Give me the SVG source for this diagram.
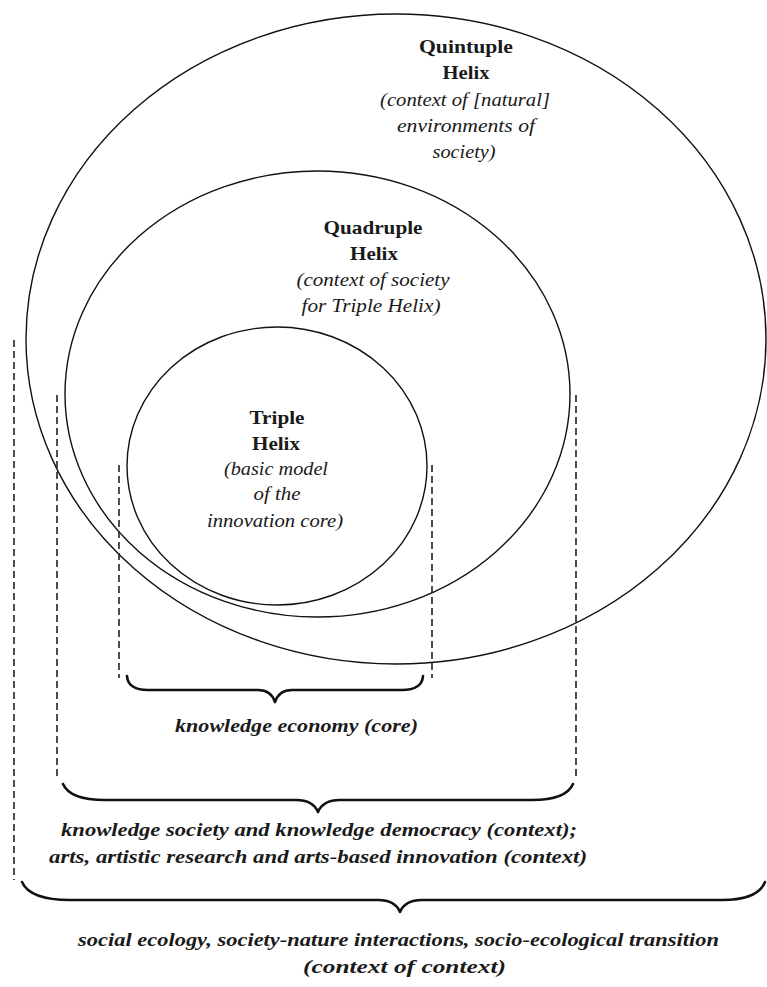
<svg xmlns="http://www.w3.org/2000/svg" width="767" height="987" viewBox="0 0 767 987">
<style>
.ell{fill:none;stroke:#111;stroke-width:1.4}
.dash{fill:none;stroke:#222;stroke-width:1.6;stroke-dasharray:7,4}
.brace{fill:none;stroke:#111;stroke-width:2.6;stroke-linecap:round;stroke-linejoin:round}
.t{font-family:"Liberation Serif","Times New Roman",serif;font-size:19px;fill:#1a1a1a;text-anchor:middle}
.b{font-weight:bold}
.i{font-style:italic}
.bi{font-weight:bold;font-style:italic}
</style>
<rect width="767" height="987" fill="#fff"/>
<g id="quintuple">
<ellipse class="ell" cx="396" cy="339" rx="370" ry="325"/>
<text class="t b" x="466" y="53" textLength="94" lengthAdjust="spacingAndGlyphs">Quintuple</text>
<text class="t b" x="466" y="79" textLength="47" lengthAdjust="spacingAndGlyphs">Helix</text>
<text class="t i" x="465" y="106" textLength="170" lengthAdjust="spacingAndGlyphs">(context of [natural]</text>
<text class="t i" x="466" y="132" textLength="138" lengthAdjust="spacingAndGlyphs">environments of</text>
<text class="t i" x="464" y="158" textLength="63" lengthAdjust="spacingAndGlyphs">society)</text>
</g>
<g id="quadruple">
<ellipse class="ell" cx="317.5" cy="394" rx="252.5" ry="223"/>
<text class="t b" x="373" y="234" textLength="99" lengthAdjust="spacingAndGlyphs">Quadruple</text>
<text class="t b" x="374" y="260" textLength="48" lengthAdjust="spacingAndGlyphs">Helix</text>
<text class="t i" x="373" y="286" textLength="153" lengthAdjust="spacingAndGlyphs">(context of society</text>
<text class="t i" x="371" y="312" textLength="139" lengthAdjust="spacingAndGlyphs">for Triple Helix)</text>
</g>
<g id="triple">
<ellipse class="ell" cx="277" cy="466" rx="150" ry="139"/>
<text class="t b" x="277" y="424" textLength="55" lengthAdjust="spacingAndGlyphs">Triple</text>
<text class="t b" x="276" y="450" textLength="48" lengthAdjust="spacingAndGlyphs">Helix</text>
<text class="t i" x="276" y="475" textLength="104" lengthAdjust="spacingAndGlyphs">(basic model</text>
<text class="t i" x="277" y="500" textLength="47" lengthAdjust="spacingAndGlyphs">of the</text>
<text class="t i" x="275" y="527" textLength="136" lengthAdjust="spacingAndGlyphs">innovation core)</text>
</g>
<g id="connectors">
<line class="dash" x1="119" y1="465" x2="119" y2="678"/>
<line class="dash" x1="432" y1="465" x2="432" y2="678"/>
<line class="dash" x1="57" y1="395" x2="57" y2="780"/>
<line class="dash" x1="576" y1="395" x2="576" y2="780"/>
<line class="dash" x1="14" y1="340" x2="14" y2="880"/>
<path class="brace" d="M127,676 Q128,690 148,690 L258,690 Q271,690 275,702 Q279,690 292,690 L402,690 Q422,690 423,676"/>
<path class="brace" d="M63,784 Q70,800 105,800 L296,800 Q313,800 318,812 Q323,800 340,800 L532,800 Q566,800 573,784"/>
<path class="brace" d="M22,882 Q30,900 70,900 L378,900 Q395,900 400,912 Q405,900 422,900 L722,900 Q758,900 765,882"/>
</g>
<g id="labels">
<text class="t bi" x="296.5" y="732" textLength="243" lengthAdjust="spacingAndGlyphs">knowledge economy (core)</text>
<text class="t bi" x="319" y="836" textLength="516" lengthAdjust="spacingAndGlyphs">knowledge society and knowledge democracy (context);</text>
<text class="t bi" x="318" y="863" textLength="538" lengthAdjust="spacingAndGlyphs">arts, artistic research and arts-based innovation (context)</text>
<text class="t bi" x="398.5" y="946" textLength="641" lengthAdjust="spacingAndGlyphs">social ecology, society-nature interactions, socio-ecological transition</text>
<text class="t bi" x="404.5" y="973" textLength="203" lengthAdjust="spacingAndGlyphs">(context of context)</text>
</g>
</svg>
